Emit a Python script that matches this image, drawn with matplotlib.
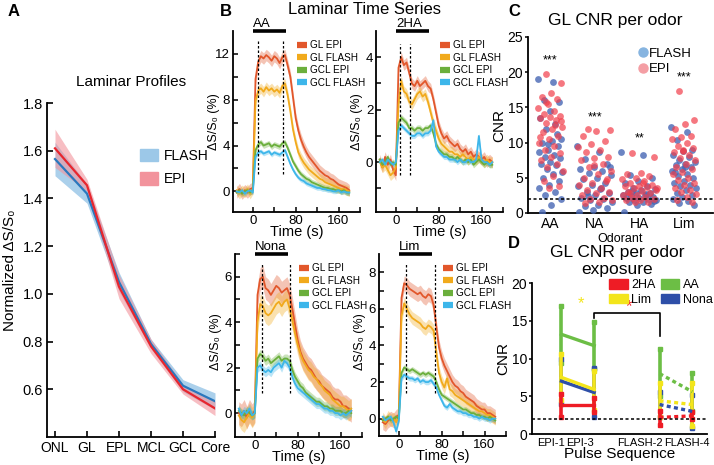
import matplotlib
matplotlib.use("Agg")
import matplotlib.pyplot as plt
import matplotlib.transforms as mtransforms
from matplotlib.lines import Line2D
from matplotlib.patches import Patch
import numpy as np

plt.rcParams["font.family"] = ["Liberation Sans", "DejaVu Sans"]
plt.rcParams["axes.linewidth"] = 1.3

W, H = 714, 465

# ---------------- data ----------------
# A: laminar profiles
layers = ["ONL", "GL", "EPL", "MCL", "GCL", "Core"]
flash_profile = [1.565, 1.42, 1.05, 0.79, 0.615, 0.55]
flash_profile_err = [0.07, 0.04, 0.04, 0.02, 0.025, 0.035]
epi_profile = [1.61, 1.455, 1.03, 0.78, 0.60, 0.52]
epi_profile_err = [0.08, 0.025, 0.05, 0.03, 0.02, 0.03]

# B: laminar time series (sampled every 5 s, -30..180 s)
time_s = list(range(-30, 185, 5))
series_names = ["GL EPI", "GL FLASH", "GCL EPI", "GCL FLASH"]

aa_gl_epi = [-0.1, 0.2, -0.2, 0.1, -0.1, 0.2, 0.3, 9.8, 11.3, 11.8, 11.6, 11.9, 11.7, 11.4, 11.8, 11.6, 11.2, 11.7, 11.9, 11.0, 10.0, 8.2, 6.4, 5.3, 4.5, 3.9, 3.4, 3.0, 2.7, 2.4, 2.1, 1.8, 1.6, 1.4, 1.3, 1.1, 1.0, 0.8, 0.6, 0.5, 0.4, 0.3, 0.1]
aa_gl_flash = [0.1, -0.2, 0.1, -0.1, 0.2, -0.2, 0.2, 7.9, 8.8, 9.0, 8.7, 9.1, 8.8, 9.0, 8.7, 8.9, 8.6, 9.2, 9.4, 8.4, 7.0, 5.4, 4.3, 3.4, 2.9, 2.5, 2.2, 1.9, 1.7, 1.5, 1.3, 1.1, 1.0, 0.8, 0.7, 0.6, 0.5, 0.4, 0.3, 0.2, 0.2, 0.1, 0.0]
aa_gcl_epi = [-0.1, 0.1, -0.2, 0.0, 0.1, -0.1, 0.1, 3.6, 4.1, 4.3, 4.0, 4.1, 4.2, 3.9, 4.1, 4.0, 3.9, 4.2, 4.3, 3.8, 3.2, 2.6, 2.2, 1.8, 1.5, 1.3, 1.1, 1.0, 0.8, 0.7, 0.6, 0.5, 0.4, 0.3, 0.3, 0.2, 0.2, 0.1, 0.1, 0.0, 0.1, -0.1, -0.1]
aa_gcl_flash = [0.0, -0.1, 0.1, -0.2, 0.0, 0.1, -0.1, 3.0, 3.4, 3.5, 3.3, 3.4, 3.5, 3.2, 3.4, 3.3, 3.2, 3.4, 3.6, 3.0, 2.4, 1.9, 1.5, 1.2, 1.0, 0.9, 0.7, 0.6, 0.5, 0.4, 0.3, 0.3, 0.2, 0.2, 0.1, 0.1, 0.0, 0.0, 0.1, -0.1, 0.0, -0.1, -0.1]

ha_gl_epi = [0.1, -0.2, 0.2, -0.1, 0.1, -0.3, -0.5, 3.6, 4.0, 3.7, 3.8, 3.4, 3.0, 2.9, 3.1, 2.9, 3.0, 3.1, 2.9, 2.8, 2.4, 1.9, 1.4, 1.1, 0.9, 1.0, 0.8, 0.7, 0.6, 0.7, 0.5, 0.4, 0.5, 0.3, 0.4, 0.2, 0.3, 0.2, 0.1, 0.2, 0.0, 0.1, 0.0]
ha_gl_flash = [0.0, -0.2, -0.1, -0.3, -0.5, -0.4, -0.2, 2.2, 3.1, 2.7, 2.6, 2.3, 2.2, 2.4, 2.6, 2.7, 2.5, 2.6, 2.3, 1.9, 1.5, 1.2, 0.9, 0.7, 0.6, 0.5, 0.4, 0.4, 0.3, 0.3, 0.2, 0.3, 0.2, 0.1, 0.2, 0.1, 0.1, 0.2, 0.1, 0.0, 0.1, 0.0, 0.0]
ha_gcl_epi = [0.1, -0.1, 0.0, 0.2, -0.1, 0.0, -0.1, 1.5, 1.7, 1.6, 1.5, 1.3, 1.3, 1.2, 1.3, 1.3, 1.2, 1.3, 1.3, 1.4, 1.1, 0.7, 0.5, 0.4, 0.3, 0.3, 0.2, 0.2, 0.1, 0.2, 0.1, 0.0, 0.1, 0.0, 0.1, -0.1, 0.0, 0.1, 0.0, -0.1, 0.0, -0.1, -0.1]
ha_gcl_flash = [0.0, 0.1, -0.1, 0.1, 0.0, -0.1, 0.0, 1.2, 1.4, 1.3, 1.2, 1.1, 1.0, 1.0, 1.1, 1.1, 1.0, 1.1, 1.1, 1.2, 1.6, 0.6, 0.4, 0.3, 0.2, 0.2, 0.1, 0.1, 0.1, 0.0, 0.1, 0.0, 0.0, 0.1, 0.0, 0.0, 0.1, 1.0, 0.1, 0.0, 0.0, -0.1, 0.0]

no_gl_epi = [0.0, -0.1, 0.1, -0.2, 0.1, -0.1, 0.1, 5.2, 5.9, 6.0, 5.5, 5.4, 5.2, 5.4, 5.6, 5.5, 5.3, 5.4, 5.5, 5.2, 4.6, 3.9, 3.2, 2.7, 2.4, 2.2, 2.0, 1.9, 1.7, 1.5, 1.4, 1.2, 1.1, 1.0, 0.9, 0.7, 0.6, 0.6, 0.5, 0.3, 0.3, 0.2, 0.1]
no_gl_flash = [-0.1, -0.3, -0.4, -0.2, 0.0, -0.2, 0.0, 4.0, 4.8, 4.7, 4.4, 4.3, 4.4, 4.6, 4.8, 4.9, 4.7, 4.9, 5.0, 4.6, 4.1, 3.5, 3.0, 2.6, 2.3, 2.1, 1.9, 1.8, 1.6, 1.5, 1.3, 1.2, 1.0, 0.9, 0.8, 0.6, 0.5, 0.4, 0.3, 0.3, 0.2, 0.1, 0.2]
no_gcl_epi = [0.1, 0.0, -0.1, 0.1, 0.0, -0.1, 0.0, 2.4, 2.6, 2.5, 2.3, 2.4, 2.2, 2.3, 2.4, 2.5, 2.3, 2.4, 2.4, 2.3, 1.9, 1.6, 1.4, 1.2, 1.1, 0.9, 0.8, 0.7, 0.6, 0.5, 0.5, 0.4, 0.3, 0.3, 0.2, 0.2, 0.1, 0.1, 0.1, 0.0, 0.0, 0.1, 0.0]
no_gcl_flash = [0.2, -0.1, 0.1, 0.0, 0.2, -0.1, 0.0, 2.0, 2.1, 1.9, 1.8, 1.9, 1.8, 2.0, 2.1, 2.2, 2.0, 2.3, 2.2, 2.0, 1.6, 1.3, 1.1, 1.0, 0.9, 0.8, 0.7, 0.6, 0.5, 0.4, 0.4, 0.3, 0.2, 0.2, 0.1, 0.1, 0.0, 0.0, -0.1, 0.0, -0.1, 0.0, 0.1]

li_gl_epi = [-0.2, -0.3, -0.1, 0.0, -0.1, 0.1, 0.2, 6.6, 7.4, 7.3, 7.1, 7.0, 6.9, 6.8, 6.9, 6.7, 6.6, 6.8, 6.7, 6.2, 5.0, 3.9, 3.3, 2.9, 2.6, 2.3, 2.0, 1.8, 1.7, 1.5, 1.4, 1.2, 1.1, 1.0, 0.9, 0.7, 0.6, 0.5, 0.5, 0.3, 0.3, 0.2, 0.1]
li_gl_flash = [0.0, -0.2, 0.1, -0.1, 0.0, -0.2, 0.1, 5.6, 6.3, 6.0, 5.7, 5.5, 5.4, 5.3, 5.2, 5.0, 4.9, 5.1, 5.0, 4.8, 3.6, 2.5, 2.0, 1.7, 2.2, 1.6, 1.5, 1.3, 1.2, 1.1, 1.0, 0.9, 0.8, 0.7, 0.6, 0.5, 0.4, 0.4, 0.3, 0.2, 0.2, 0.1, 0.0]
li_gcl_epi = [-0.1, 0.0, 0.1, -0.1, 0.0, 0.1, 0.0, 2.5, 2.8, 2.7, 2.6, 2.7, 2.6, 2.5, 2.4, 2.5, 2.4, 2.5, 2.4, 2.3, 2.0, 1.6, 1.3, 1.2, 1.1, 1.0, 0.9, 0.8, 0.7, 0.6, 0.5, 0.5, 0.4, 0.3, 0.3, 0.2, 0.2, 0.1, 0.1, 0.0, 0.1, 0.0, -0.1]
li_gcl_flash = [0.1, -0.1, 0.0, 0.1, -0.2, -0.7, -0.1, 2.2, 2.4, 2.3, 2.2, 2.2, 2.1, 2.2, 2.0, 2.1, 2.0, 2.0, 2.1, 1.9, 1.7, 1.3, 1.0, 0.7, 0.6, 0.8, 0.6, 0.5, 0.4, 0.4, 0.3, 0.3, 0.2, 0.2, 0.1, 0.1, 0.0, 0.1, 0.0, 0.0, -0.1, 0.0, 0.0]

# per-panel: label, series, sem, odor window, dashed marks, dashed y-range, ylim, yticks
odor_panels = [
    ("AA", [aa_gl_epi, aa_gl_flash, aa_gcl_epi, aa_gcl_flash], [0.5, 0.45, 0.25, 0.2],
     (0, 62), (9, 56), (1.5, 13.3), (-1.8, 14), [0, 2, 4, 6, 8, 10, 12], [0, 4, 8, 12]),
    ("2HA", [ha_gl_epi, ha_gl_flash, ha_gcl_epi, ha_gcl_flash], [0.2, 0.2, 0.12, 0.1],
     (0, 62), (7.5, 26), (-0.5, 4.5), (-1.9, 5.0), [-1, 0, 1, 2, 3, 4], [0, 2, 4]),
    ("Nona", [no_gl_epi, no_gl_flash, no_gcl_epi, no_gcl_flash], [0.5, 0.45, 0.2, 0.2],
     (0, 62), (13, 65), (0.9, 6.6), (-1.05, 7.0), [0, 1, 2, 3, 4, 5, 6, 7], [0, 2, 4, 6]),
    ("Lim", [li_gl_epi, li_gl_flash, li_gcl_epi, li_gcl_flash], [0.4, 0.35, 0.15, 0.15],
     (0, 62), (13, 67), (1.4, 8.5), (-0.95, 9.0), [0, 1, 2, 3, 4, 5, 6, 7, 8], [0, 2, 4, 6, 8]),
]

# C: GL CNR per odor
odorants = ["AA", "NA", "HA", "Lim"]
cnr_epi = {
    "AA": [19.8, 18.5, 17.0, 16.5, 16.2, 15.5, 14.9, 14.5, 14.0, 13.8, 13.6, 13.5, 13.2, 12.8, 12.2, 12.0, 11.5, 11.0, 10.5, 10.0, 9.5, 9.0, 8.5, 8.0, 7.5, 7.0, 6.5, 6.0, 5.2, 4.5, 3.8, 3.5, 10.8, 12.5, 15.8, 13.0],
    "NA": [11.9, 11.8, 11.6, 11.0, 10.2, 9.8, 9.4, 9.0, 8.7, 8.0, 7.8, 7.5, 7.0, 6.5, 6.0, 5.5, 5.0, 4.6, 4.2, 4.0, 3.6, 3.2, 3.0, 2.8, 2.5, 2.2, 2.0, 1.8, 1.6, 1.4, 4.8, 6.8],
    "HA": [8.5, 8.0, 5.7, 5.5, 5.2, 5.0, 4.8, 4.6, 4.3, 4.0, 3.9, 3.8, 3.7, 3.5, 3.3, 3.1, 3.0, 2.8, 2.6, 2.5, 2.3, 2.1, 2.0, 1.9, 1.8, 1.6, 1.5, 3.6, 4.2, 2.9],
    "Lim": [17.3, 13.2, 12.6, 12.0, 11.0, 10.8, 10.5, 10.0, 9.5, 9.2, 9.0, 8.6, 8.2, 7.8, 7.5, 7.0, 6.6, 6.2, 5.8, 5.5, 5.0, 4.7, 4.3, 4.0, 3.6, 3.3, 3.0, 2.7, 2.3, 1.8, 1.5, 8.8],
}
cnr_flash = {
    "AA": [19.0, 18.6, 16.0, 15.8, 14.5, 13.5, 12.7, 12.0, 10.5, 10.2, 10.0, 9.5, 9.0, 8.6, 8.3, 8.0, 7.8, 7.2, 7.0, 6.8, 6.3, 5.8, 5.5, 5.0, 4.5, 4.0, 3.6, 3.0, 2.6, 2.0, 1.2, 0.2, 11.2, 9.8],
    "NA": [9.5, 8.7, 7.6, 7.0, 6.5, 6.2, 6.0, 5.7, 5.4, 5.0, 4.8, 4.3, 4.0, 3.8, 3.4, 3.0, 2.8, 2.5, 2.2, 2.0, 1.8, 1.5, 1.2, 1.0, 0.7, 0.4, 0.2, 3.6, 2.4, 6.6],
    "HA": [8.7, 8.2, 5.4, 5.0, 4.6, 4.2, 3.9, 3.6, 3.4, 3.2, 3.0, 2.9, 2.8, 2.6, 2.5, 2.4, 2.3, 2.2, 2.1, 2.0, 1.9, 1.8, 1.6, 1.5, 1.3, 1.1, 0.2, 2.7, 3.1, 1.7],
    "Lim": [12.2, 11.5, 10.3, 9.0, 8.8, 8.3, 8.0, 7.5, 7.2, 7.0, 6.8, 6.5, 6.2, 6.0, 5.6, 5.3, 5.0, 4.6, 4.2, 4.0, 3.8, 3.5, 3.2, 2.9, 2.6, 2.3, 2.0, 1.7, 1.4, 1.2, 6.6, 5.8],
}
cnr_signif = {"AA": ("***", 21.6), "NA": ("***", 13.6), "HA": ("**", 10.6), "Lim": ("***", 19.3)}
cnr_threshold = 2

# D: GL CNR per odor exposure
pulse_labels = ["EPI-1", "EPI-3", "FLASH-2", "FLASH-4"]
pulse_pos = [1, 2, 4, 5]
exposure_mean = {"AA": [13.2, 11.7, 8.0, 5.6], "Nona": [7.0, 5.5, 3.9, 3.0],
                 "Lim": [7.5, 5.9, 4.4, 3.9], "2HA": [3.8, 3.8, 2.2, 2.4]}
exposure_low = {"AA": [9.4, 8.6, 5.0, 3.0], "Nona": [4.0, 2.3, 2.3, 0.8],
                "Lim": [4.5, 3.2, 2.2, 1.1], "2HA": [2.2, 2.9, 1.2, 2.0]}
exposure_high = {"AA": [17.0, 14.8, 11.2, 8.1], "Nona": [10.0, 8.7, 5.6, 5.2],
                 "Lim": [10.6, 8.4, 6.7, 6.7], "2HA": [5.3, 4.8, 3.1, 2.9]}

# ---------------- styles ----------------
TS_COLORS = ["#E2572B", "#F1AA1C", "#6BAF3C", "#3DB6EA"]
D_COLORS = {"AA": "#6CBE45", "Nona": "#2E4FA8", "Lim": "#F3E51B", "2HA": "#EE1C25"}


def px_axes(l, t, r, b):
    return [l / W, 1 - b / H, (r - l) / W, (b - t) / H]


def ftext(x, y, s, **kw):
    fig.text(x / W, 1 - y / H, s, **kw)


fig = plt.figure(figsize=(W / 100, H / 100), dpi=100)

# ---------------- panel A ----------------
axA = fig.add_axes(px_axes(47, 103, 215, 437))
xA = np.arange(len(layers))
fp, fe = np.array(flash_profile), np.array(flash_profile_err)
ep, ee = np.array(epi_profile), np.array(epi_profile_err)
axA.fill_between(xA, fp - fe, fp + fe, color="#9CC8E8", alpha=0.85, lw=0)
axA.fill_between(xA, ep - ee, ep + ee, color="#F2939C", alpha=0.6, lw=0)
axA.plot(xA, fp, color="#2978BE", lw=1.6)
axA.plot(xA, ep, color="#E8262E", lw=1.6)
axA.set_xlim(-0.25, 5)
axA.set_ylim(0.4, 1.8)
axA.set_xticks(xA)
axA.set_xticklabels(layers, fontsize=10)
axA.set_yticks([0.6, 0.8, 1.0, 1.2, 1.4, 1.6, 1.8])
axA.set_yticklabels(["0.6", "0.8", "1.0", "1.2", "1.4", "1.6", "1.8"], fontsize=10.5)
axA.tick_params(direction="in", length=4, width=1.2, pad=3)
axA.spines[["top", "right"]].set_visible(False)
axA.set_ylabel("Normalized ΔS/S₀", fontsize=11, labelpad=4)
axA.set_title("Laminar Profiles", fontsize=11, pad=12)
axA.legend(handles=[Patch(color="#9CC8E8", label="FLASH"), Patch(color="#F2939C", label="EPI")],
           loc="upper left", bbox_to_anchor=(0.52, 0.88), frameon=False, fontsize=10,
           handlelength=1.3, handleheight=1.0, labelspacing=0.7, handletextpad=0.4,
           borderaxespad=0)

# ---------------- panel B ----------------
b_boxes = [(233, 31, 360, 212), (376, 31, 503, 212), (235, 254, 362, 437), (379, 254, 506, 436)]
b_label_y = [0.5, 0.5, 0.52, 0.52]
for box, lab_y, (odor, series, sems, window, marks, mark_rng, ylim, yticks, ylabs) in zip(
        b_boxes, b_label_y, odor_panels):
    ax = fig.add_axes(px_axes(*box))
    t = np.array(time_s)
    for y, sem, c in zip(series, sems, TS_COLORS):
        y = np.array(y)
        ax.fill_between(t, y - sem, y + sem, color=c, alpha=0.35, lw=0)
    for y, c in zip(series, TS_COLORS):
        ax.plot(t, y, color=c, lw=1.3)
    for m in marks:
        ax.plot([m, m], mark_rng, color="black", lw=0.9, ls=(0, (2, 1.6)))
    trans = mtransforms.blended_transform_factory(ax.transData, ax.transAxes)
    ax.plot(window, [1, 1], color="black", lw=2.6, transform=trans, clip_on=False, solid_capstyle="butt")
    ax.text(window[0] + 1, 1.005, odor, transform=trans, fontsize=9.5, va="bottom", ha="left")
    ax.set_xlim(-37, 200)
    ax.set_ylim(*ylim)
    ax.set_xticks([0, 40, 80, 120, 160, 200])
    ax.set_xticklabels(["0", "", "80", "", "160", ""], fontsize=9.5)
    ax.set_yticks(yticks)
    ax.set_yticklabels([str(v) if v in ylabs else "" for v in yticks], fontsize=9.5)
    ax.tick_params(direction="in", length=3.5, width=1.1, pad=2)
    ax.spines[["top", "right"]].set_visible(False)
    ax.set_xlabel("Time (s)", fontsize=10.5, labelpad=-1)
    ax.set_ylabel("ΔS/S₀ (%)", fontsize=9)
    ax.yaxis.set_label_coords(-0.1, lab_y)
    handles = [Line2D([], [], color=c, lw=4.5, solid_capstyle="butt") for c in TS_COLORS]
    ax.legend(handles, series_names, loc="upper left", bbox_to_anchor=(0.47, 0.97), frameon=False,
              fontsize=7.2, handlelength=1.0, handletextpad=0.3, labelspacing=0.25, borderaxespad=0)

ftext(365, 10, "Laminar Time Series", fontsize=12, ha="center", va="center")

# ---------------- panel C ----------------
axC = fig.add_axes(px_axes(528, 37, 713, 213))
for i, odor in enumerate(odorants):
    spread = 0.4 if odor in ("NA", "HA") else 0.28
    for vals, color, alpha, phase in [(cnr_flash[odor], "#4767B5", 0.8, 0.0),
                                      (cnr_epi[odor], "#F23E4A", 0.7, 0.31)]:
        k = np.arange(len(vals))
        jitter = ((k * 0.618034 + phase) % 1.0 - 0.5) * 2 * spread
        axC.scatter(i + jitter, vals, s=24, color=color, alpha=alpha, lw=0, zorder=3)
    star, ys = cnr_signif[odor]
    axC.text(i, ys, star, ha="center", va="center", fontsize=9)
axC.axhline(cnr_threshold, color="black", lw=1.1, ls=(0, (2, 1.6)), zorder=4)
axC.set_xlim(-0.5, 3.66)
axC.set_ylim(0, 25)
axC.set_xticks(range(len(odorants)))
axC.set_xticklabels(odorants, fontsize=10)
axC.set_yticks([0, 5, 10, 15, 20, 25])
axC.set_yticklabels(["0", "5", "10", "15", "20", "25"], fontsize=10)
axC.tick_params(axis="y", direction="out", length=2.5, width=1.1, pad=1)
axC.tick_params(axis="x", length=0, pad=3)
axC.spines[["top", "right"]].set_visible(False)
axC.set_ylabel("CNR", fontsize=11, labelpad=1)
axC.set_xlabel("Odorant", fontsize=9, labelpad=1)
axC.legend(handles=[Line2D([], [], ls="", marker="o", ms=6.5, color="#86B4E0", label="FLASH"),
                    Line2D([], [], ls="", marker="o", ms=6.5, color="#F49EA4", label="EPI")],
           loc="upper left", bbox_to_anchor=(0.57, 0.97), frameon=False, fontsize=9.5,
           handlelength=0.7, handletextpad=0.1, labelspacing=0.25, borderaxespad=0)
ftext(615, 20, "GL CNR per odor", fontsize=12.5, ha="center", va="center")

# ---------------- panel D ----------------
axD = fig.add_axes(px_axes(532, 283, 707, 434))
for odor in ["AA", "Nona", "Lim", "2HA"]:
    c = D_COLORS[odor]
    m, lo, hi = exposure_mean[odor], exposure_low[odor], exposure_high[odor]
    for x, a, b in zip(pulse_pos, lo, hi):
        axD.plot([x, x], [a, b], color=c, lw=2.6, solid_capstyle="butt", zorder=2)
        axD.plot([x, x], [a, b], ls="", marker="s", ms=2.5, color=c, zorder=2)
    axD.plot(pulse_pos[:2], m[:2], color=c, lw=2.4, zorder=3)
    axD.plot(pulse_pos[2:], m[2:], color=c, lw=2.4, ls=(0, (1.2, 1.0)), zorder=3)
axD.axhline(cnr_threshold, color="black", lw=1.1, ls=(0, (2, 1.6)), zorder=4)
axD.plot([2, 2, 4, 4], [15.3, 16, 16, 13], color="black", lw=1.2)
axD.text(3.05, 15.9, "*", color="#EE1C25", fontsize=12, ha="center", va="bottom")
axD.text(1.6, 16.3, "*", color="#F3E51B", fontsize=12, ha="center", va="bottom")
axD.set_xlim(0.1, 5.45)
axD.set_ylim(0, 20)
# labels sit left of their error bars in the reference
axD.set_xticks([0.68, 1.57, 3.4, 4.84])
axD.set_xticklabels(pulse_labels, fontsize=8)
axD.set_yticks([0, 5, 10, 15, 20])
axD.set_yticklabels(["0", "5", "10", "15", "20"], fontsize=10)
axD.tick_params(axis="y", direction="out", length=2.5, width=1.1, pad=1)
axD.tick_params(axis="x", length=0, pad=3)
axD.spines[["top", "right"]].set_visible(False)
axD.set_ylabel("CNR", fontsize=11, labelpad=1)
axD.set_xlabel("Pulse Sequence", fontsize=11, labelpad=-1)
leg_order = ["2HA", "Lim", "AA", "Nona"]
axD.legend(handles=[Patch(color=D_COLORS[o], label=o) for o in leg_order], ncol=2,
           loc="upper left", bbox_to_anchor=(0.41, 1.06), frameon=False, fontsize=9,
           handlelength=1.5, handleheight=0.8, handletextpad=0.3, labelspacing=0.2,
           columnspacing=0.4, borderaxespad=0)
ftext(617, 261, "GL CNR per odor\nexposure", fontsize=12.5, ha="center", va="center",
      linespacing=1.15)

# panel letters
for letter, (x, y) in zip("ABCD", [(14, 12), (226, 12), (514, 12), (514, 243)]):
    ftext(x, y, letter, fontsize=12, fontweight="bold", ha="center", va="center")

fig.savefig("out.png", dpi=100)
